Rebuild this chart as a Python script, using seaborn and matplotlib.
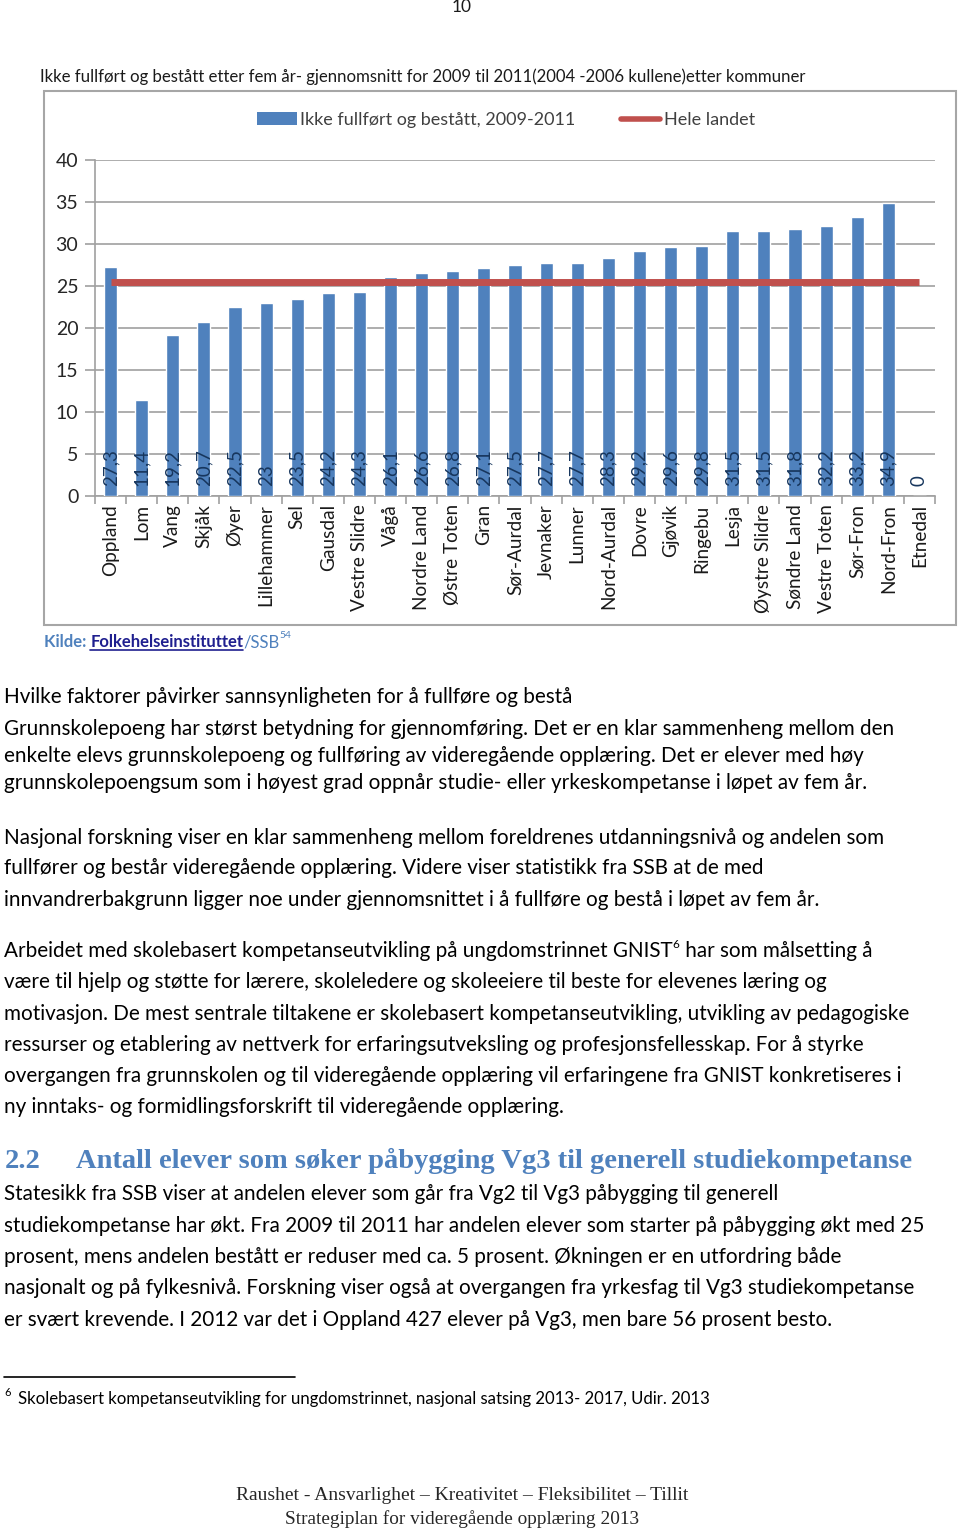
import numpy as np
import pandas as pd
import seaborn as sns
import matplotlib.pyplot as plt
from matplotlib.patches import Rectangle, Patch
from matplotlib.lines import Line2D

# data
kommuner = ["Oppland", "Lom", "Vang", "Skjåk", "Øyer", "Lillehammer", "Sel", "Gausdal",
            "Vestre Slidre", "Vågå", "Nordre Land", "Østre Toten", "Gran", "Sør-Aurdal",
            "Jevnaker", "Lunner", "Nord-Aurdal", "Dovre", "Gjøvik", "Ringebu", "Lesja",
            "Øystre Slidre", "Søndre Land", "Vestre Toten", "Sør-Fron", "Nord-Fron", "Etnedal"]
ikke_fullfort = [27.3, 11.4, 19.2, 20.7, 22.5, 23, 23.5, 24.2, 24.3, 26.1, 26.6, 26.8, 27.1,
                 27.5, 27.7, 27.7, 28.3, 29.2, 29.6, 29.8, 31.5, 31.5, 31.8, 32.2, 33.2, 34.9, 0]
hele_landet = 25.5
y_ticks = [0, 5, 10, 15, 20, 25, 30, 35, 40]

W, H = 960, 1531
BLUE = "#4F81BD"
RED = "#C0504D"

sns.set_theme(style="white")
plt.rcParams["font.family"] = ["Lato", "DejaVu Sans"]

fig = plt.figure(figsize=(W / 100, H / 100), dpi=100)


def fy(y):
    return 1 - y / H


def fx(x):
    return x / W


# chart frame
fig.add_artist(Rectangle((fx(44), fy(625)), fx(956) - fx(44), fy(91) - fy(625),
                         transform=fig.transFigure, fill=False, edgecolor="#A6A6A6", lw=1.5))

ax = fig.add_axes([fx(95), fy(496), fx(935) - fx(95), fy(160) - fy(496)])
df = pd.DataFrame({"kommune": kommuner, "verdi": ikke_fullfort})
sns.barplot(data=df, x="kommune", y="verdi", color=BLUE, width=0.42, saturation=1, ax=ax, zorder=3)
xs = np.arange(len(kommuner))
ax.plot(xs, [hele_landet] * len(xs), color=RED, lw=5, solid_capstyle="butt", zorder=4)

ax.set_xlim(-0.5, len(kommuner) - 0.5)
ax.set_ylim(0, 40)
ax.set_yticks(y_ticks)
ax.yaxis.grid(True, color="#A0A0A0", lw=1.2, zorder=0)
ax.set_axisbelow(True)
ax.set_xlabel("")
ax.set_ylabel("")
for s in ["top", "right"]:
    ax.spines[s].set_visible(False)
for s in ["left", "bottom"]:
    ax.spines[s].set_color("#A0A0A0")
    ax.spines[s].set_linewidth(1.2)
ax.tick_params(axis="y", length=7, width=1.2, color="#A0A0A0", pad=5, labelsize=14,
               labelcolor="#262626", left=True)
ax.set_xticks(xs)
ax.set_xticklabels(kommuner, rotation=90, fontsize=13.7, color="#1A1A1A")
ax.tick_params(axis="x", length=0, pad=6)
ax.set_xticks(np.arange(len(kommuner) + 1) - 0.5, minor=True)
ax.tick_params(axis="x", which="minor", length=6, width=1.2, color="#A0A0A0", bottom=True)

for i, v in enumerate(ikke_fullfort):
    ax.text(i, 1.2, f"{v:g}".replace(".", ","), rotation=90, ha="center", va="bottom",
            fontsize=13.5, color="#17365D", zorder=5)

handles = [Patch(facecolor=BLUE, edgecolor="none"),
           Line2D([0], [0], color=RED, lw=4)]
fig.legend(handles, ["Ikke fullført og bestått, 2009-2011", "Hele landet"],
           loc="center", bbox_to_anchor=(fx(506), fy(120)), ncol=2, frameon=False,
           fontsize=13, handlelength=2.2, handletextpad=0.2, columnspacing=2.5,
           labelcolor="#404040")

renderer = fig.canvas.get_renderer()


def runs(x, y, parts, **base):
    # parts: (text, extra kwargs, vertical offset in px); returns x spans of each part
    spans = []
    for text, kw, dy in parts:
        opts = dict(base)
        opts.update(kw)
        t = fig.text(fx(x), fy(y + dy), text, va="center", ha="left", **opts)
        w = t.get_window_extent(renderer).width
        spans.append((x, x + w))
        x += w
    return spans


fig.text(fx(462), fy(7), "10", ha="center", va="center", fontsize=12.5, color="#1A1A1A")
fig.text(fx(40), fy(77), "Ikke fullført og bestått etter fem år- gjennomsnitt for 2009 til "
         "2011(2004 -2006 kullene)etter kommuner", ha="left", va="center", fontsize=12.05,
         color="#1A1A1A")

spans = runs(44, 642, [("Kilde: ", {"color": BLUE}, 0),
                       ("Folkehelseinstituttet", {"color": "#1F1F8F"}, 0),
                       ("/SSB", {"color": BLUE, "fontweight": "normal"}, 0),
                       ("54", {"color": BLUE, "fontsize": 7.5, "fontweight": "normal"}, -6)],
             fontsize=12, fontweight="bold")
x0, x1 = spans[1]
fig.add_artist(Line2D([fx(x0), fx(x1)], [fy(650), fy(650)], color="#1F1F8F", lw=1.2,
                      transform=fig.transFigure))

body = {"fontsize": 14.85, "color": "black"}
lines = [
    (697, "Hvilke faktorer påvirker sannsynligheten for å fullføre og bestå"),
    (729, "Grunnskolepoeng har størst betydning for gjennomføring. Det er en klar sammenheng mellom den"),
    (756, "enkelte elevs grunnskolepoeng og fullføring av videregående opplæring. Det er elever med høy"),
    (783, "grunnskolepoengsum som i høyest grad oppnår studie- eller yrkeskompetanse i løpet av fem år."),
    (838, "Nasjonal forskning viser en klar sammenheng mellom foreldrenes utdanningsnivå og andelen som"),
    (868, "fullfører og består videregående opplæring. Videre viser statistikk fra SSB at de med"),
    (900, "innvandrerbakgrunn ligger noe under gjennomsnittet i å fullføre og bestå i løpet av fem år."),
    (982, "være til hjelp og støtte for lærere, skoleledere og skoleeiere til beste for elevenes læring og"),
    (1014, "motivasjon. De mest sentrale tiltakene er skolebasert kompetanseutvikling, utvikling av pedagogiske"),
    (1045, "ressurser og etablering av nettverk for erfaringsutveksling og profesjonsfellesskap. For å styrke"),
    (1076, "overgangen fra grunnskolen og til videregående opplæring vil erfaringene fra GNIST konkretiseres i"),
    (1107, "ny inntaks- og formidlingsforskrift til videregående opplæring."),
    (1194, "Statesikk fra SSB viser at andelen elever som går fra Vg2 til Vg3 påbygging til generell"),
    (1226, "studiekompetanse har økt. Fra 2009 til 2011 har andelen elever som starter på påbygging økt med 25"),
    (1257, "prosent, mens andelen bestått er reduser med ca. 5 prosent. Økningen er en utfordring både"),
    (1288, "nasjonalt og på fylkesnivå. Forskning viser også at overgangen fra yrkesfag til Vg3 studiekompetanse"),
    (1320, "er svært krevende. I 2012 var det i Oppland 427 elever på Vg3, men bare 56 prosent besto."),
]
for y, txt in lines:
    fig.text(fx(4), fy(y), txt, ha="left", va="center", **body)

runs(4, 951, [("Arbeidet med skolebasert kompetanseutvikling på ungdomstrinnet GNIST", {}, 0),
              ("6", {"fontsize": 8.5}, -6),
              (" har som målsetting å", {}, 0)], **body)

fig.text(fx(5), fy(1161), "2.2", ha="left", va="center", fontsize=20.5, fontweight="bold",
         color=BLUE, family="Liberation Serif")
fig.text(fx(76), fy(1161), "Antall elever som søker påbygging Vg3 til generell studiekompetanse",
         ha="left", va="center", fontsize=20.5, fontweight="bold", color=BLUE,
         family="Liberation Serif")

fig.add_artist(Line2D([fx(4), fx(295)], [fy(1377), fy(1377)], color="black", lw=1.2,
                      transform=fig.transFigure))
fig.text(fx(4), fy(1392), "6", ha="left", va="center", fontsize=8, color="black")
fig.text(fx(18), fy(1399), "Skolebasert kompetanseutvikling for ungdomstrinnet, nasjonal satsing "
         "2013- 2017, Udir. 2013", ha="left", va="center", fontsize=12.1, color="black")

fig.text(fx(462), fy(1496), "Raushet - Ansvarlighet – Kreativitet – Fleksibilitet – Tillit",
         ha="center", va="center", fontsize=14, color="#262626", family="Liberation Serif")
fig.text(fx(462), fy(1519), "Strategiplan for videregående opplæring 2013",
         ha="center", va="center", fontsize=13.9, color="#262626", family="Liberation Serif")

fig.savefig("out.png", dpi=100, facecolor="white")
